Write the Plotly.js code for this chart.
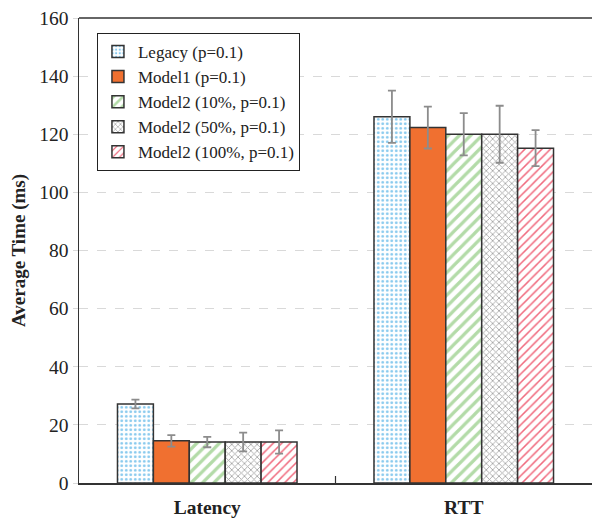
<!DOCTYPE html>
<html>
<head>
<meta charset="utf-8">
<script src="https://cdn.plot.ly/plotly-3.0.1.min.js"></script>
<style>html,body{margin:0;padding:0;background:#fff}#chart{width:592px;height:518px}</style>
</head>
<body>
<div id="chart"></div>
<script>
const categories = ['Latency', 'RTT'];
const seriesNames = ['Legacy (p=0.1)', 'Model1 (p=0.1)', 'Model2 (10%, p=0.1)', 'Model2 (50%, p=0.1)', 'Model2 (100%, p=0.1)'];
const legacyVals = [27.2, 126.0];
const legacyErr = [1.5, 9.0];
const model1Vals = [14.5, 122.3];
const model1Err = [2.0, 7.2];
const model2_10Vals = [14.1, 120.0];
const model2_10Err = [1.8, 7.3];
const model2_50Vals = [14.1, 120.0];
const model2_50Err = [3.2, 9.8];
const model2_100Vals = [14.1, 115.2];
const model2_100Err = [4.0, 6.2];

const values = [legacyVals, model1Vals, model2_10Vals, model2_50Vals, model2_100Vals];
const errors = [legacyErr, model1Err, model2_10Err, model2_50Err, model2_100Err];
const fills = [
  {color: '#ffffff', pattern: {shape: '.', fgcolor: '#86c9ee', bgcolor: '#ffffff', size: 4.5, solidity: 0.3}},
  {color: '#f07030'},
  {color: '#ffffff', pattern: {shape: '/', fgcolor: '#b3dba8', bgcolor: '#ffffff', size: 8, solidity: 0.4}},
  {color: '#ffffff', pattern: {shape: 'x', fgcolor: '#a6a6a6', bgcolor: '#ffffff', size: 4.5, solidity: 0.35}},
  {color: '#ffffff', pattern: {shape: '/', fgcolor: '#f06a7e', bgcolor: '#ffffff', size: 6, solidity: 0.25}}
];

const traces = seriesNames.map((name, i) => ({
  type: 'bar',
  name: name,
  x: categories,
  y: values[i],
  legendgroup: 'g' + i,
  marker: Object.assign({line: {color: '#333333', width: 1.5}}, fills[i]),
  error_y: {type: 'data', array: errors[i], visible: true, color: '#8c8c8c', thickness: 1.8, width: 4}
}));

const font = '"Liberation Serif", "Times New Roman", serif';
const layout = {
  width: 592, height: 518,
  margin: {l: 79, r: 0, t: 18, b: 35},
  paper_bgcolor: '#ffffff', plot_bgcolor: '#ffffff',
  font: {family: font, color: '#222222', size: 19},
  barmode: 'group', bargap: 0.30, bargroupgap: 0,
  showlegend: true,
  legend: {
    x: 0.035, y: 0.968, xanchor: 'left', yanchor: 'top',
    bgcolor: '#ffffff', bordercolor: '#222222', borderwidth: 1,
    font: {family: font, size: 17, color: '#222222'},
    tracegroupgap: 6,
    traceorder: 'normal',
    itemwidth: 30
  },
  xaxis: {
    type: 'category', range: [-0.5, 1.5],
    showline: true, linecolor: '#333333', linewidth: 1.5,
    ticks: '', showgrid: false,
    ticklabelstandoff: 6,
    tickfont: {family: font, size: 19.5, color: '#222222', weight: 'bold'},
    mirror: false
  },
  yaxis: {
    range: [0, 160], dtick: 20,
    title: {text: '<b>Average Time (ms)</b>', font: {family: font, size: 19, color: '#222222'}, standoff: 8},
    showline: true, linecolor: '#333333', linewidth: 1.5,
    showgrid: true, gridcolor: '#d9d9d9', griddash: 'dash', gridwidth: 1,
    zeroline: false,
    ticks: 'outside', ticklen: 5, tickcolor: '#d9d9d9',
    tickfont: {family: font, size: 19.5, color: '#222222'}
  },
  shapes: [
    {type: 'line', xref: 'paper', yref: 'paper', x0: 0, x1: 1, y0: 1, y1: 1, line: {color: '#333333', width: 1.5}},
    {type: 'line', xref: 'x', yref: 'paper', x0: 0.5, x1: 0.5, y0: 0, y1: 0.015, line: {color: '#333333', width: 1.2}}
  ]
};

Plotly.newPlot('chart', traces, layout, {displayModeBar: false, staticPlot: true});
</script>
</body>
</html>
